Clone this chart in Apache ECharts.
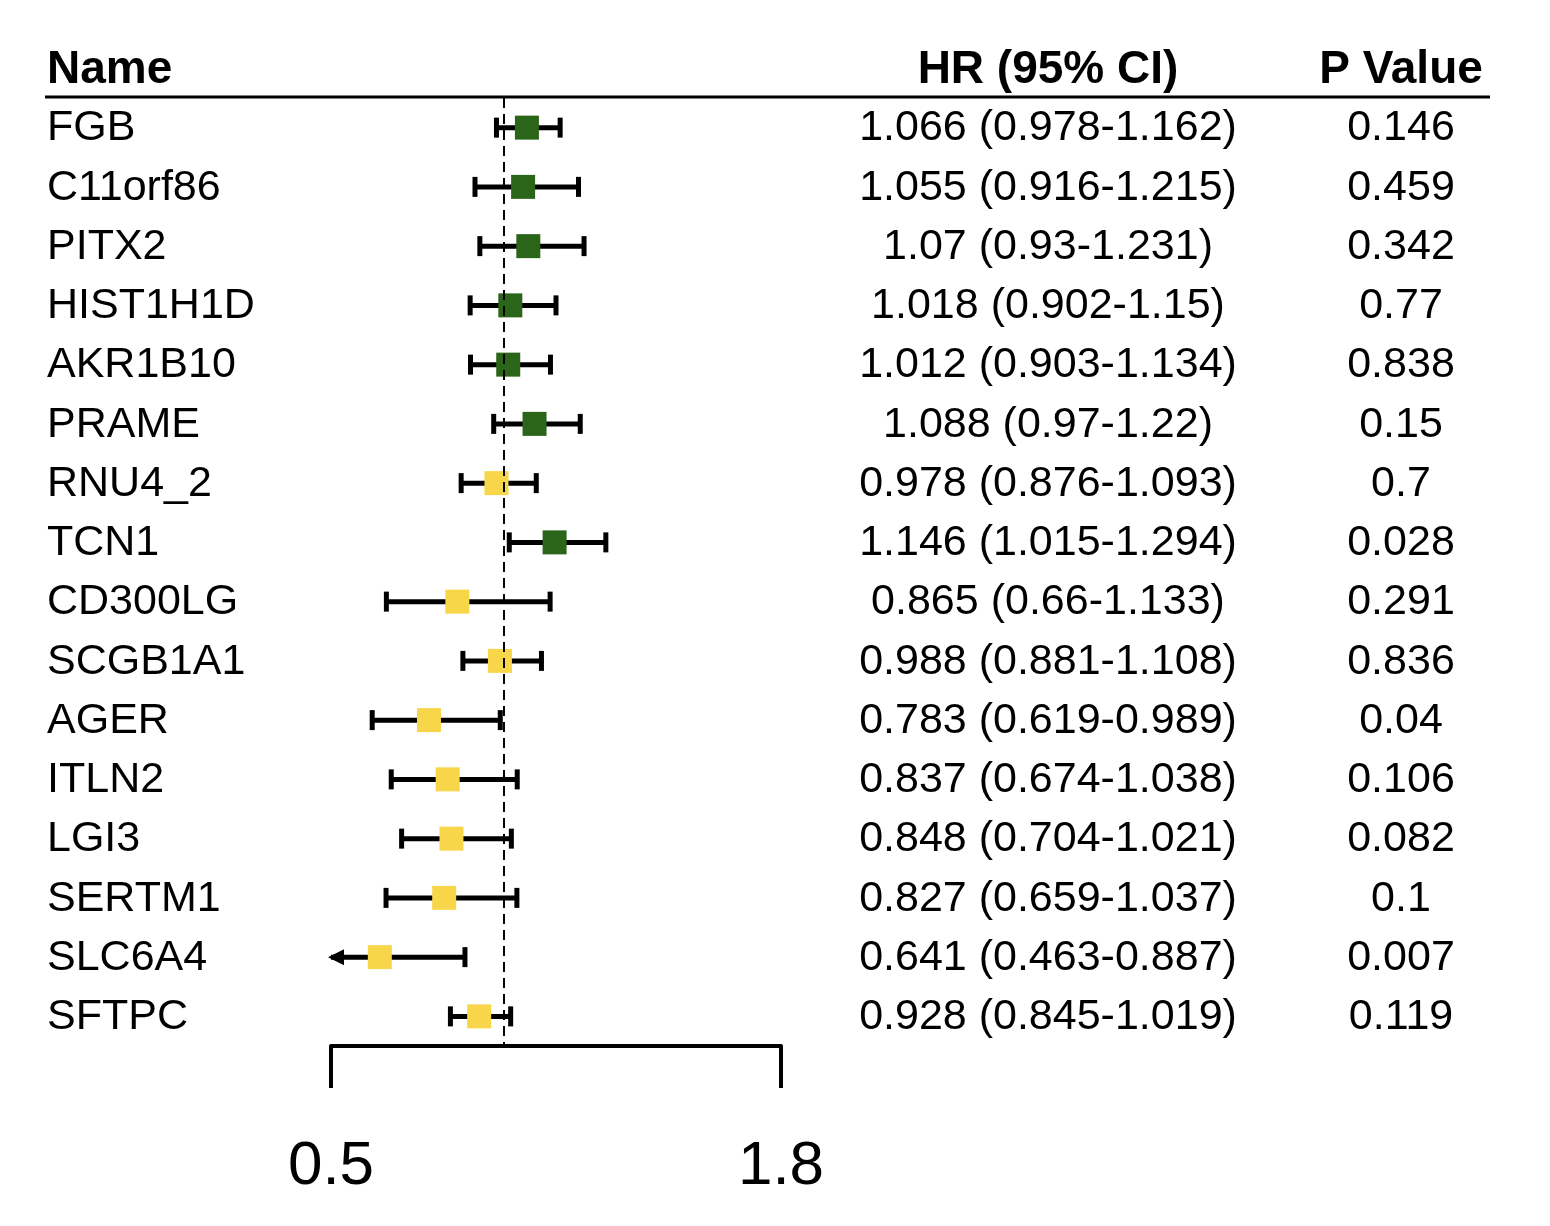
<!DOCTYPE html>
<html><head><meta charset="utf-8">
<script src="https://cdn.jsdelivr.net/npm/echarts@6/dist/echarts.min.js"></script>
<style>html,body{margin:0;background:#fff}#c{width:1550px;height:1226px}</style>
</head><body><div id="c"></div>
<script>
const names = ["FGB","C11orf86","PITX2","HIST1H1D","AKR1B10","PRAME","RNU4_2","TCN1","CD300LG","SCGB1A1","AGER","ITLN2","LGI3","SERTM1","SLC6A4","SFTPC"];
const hr = [1.066,1.055,1.07,1.018,1.012,1.088,0.978,1.146,0.865,0.988,0.783,0.837,0.848,0.827,0.641,0.928];
const lower = [0.978,0.916,0.93,0.902,0.903,0.97,0.876,1.015,0.66,0.881,0.619,0.674,0.704,0.659,0.463,0.845];
const upper = [1.162,1.215,1.231,1.15,1.134,1.22,1.093,1.294,1.133,1.108,0.989,1.038,1.021,1.037,0.887,1.019];
const ciText = ["1.066 (0.978-1.162)","1.055 (0.916-1.215)","1.07 (0.93-1.231)","1.018 (0.902-1.15)","1.012 (0.903-1.134)","1.088 (0.97-1.22)","0.978 (0.876-1.093)","1.146 (1.015-1.294)","0.865 (0.66-1.133)","0.988 (0.881-1.108)","0.783 (0.619-0.989)","0.837 (0.674-1.038)","0.848 (0.704-1.021)","0.827 (0.659-1.037)","0.641 (0.463-0.887)","0.928 (0.845-1.019)"];
const pText = ["0.146","0.459","0.342","0.77","0.838","0.15","0.7","0.028","0.291","0.836","0.04","0.106","0.082","0.1","0.007","0.119"];
const xMin = 0.5, xMax = 1.8;
const font = '"Liberation Sans", Arial, sans-serif';
const chart = echarts.init(document.getElementById('c'));
const data = names.map((n,i)=>[i,hr[i],lower[i],upper[i]]);
chart.setOption({
  animation:false,
  grid:{left:331,right:769,top:98,bottom:180},
  xAxis:{type:'value',min:xMin,max:xMax,interval:1.3,splitLine:{show:false},
    axisLine:{show:true,lineStyle:{color:'#000',width:4}},
    axisTick:{show:true,length:42,lineStyle:{color:'#000',width:4}},
    axisLabel:{fontSize:62,color:'#000',margin:90,fontFamily:font}},
  yAxis:{type:'category',data:names,inverse:true,show:false},
  graphic:[
    {type:'text',x:47,y:70,style:{text:'Name',font:'bold 46px '+font,fill:'#000',verticalAlign:'middle'}},
    {type:'text',x:1048,y:70,style:{text:'HR (95% CI)',font:'bold 46px '+font,fill:'#000',align:'center',verticalAlign:'middle'}},
    {type:'text',x:1401,y:70,style:{text:'P Value',font:'bold 46px '+font,fill:'#000',align:'center',verticalAlign:'middle'}},
    {type:'line',shape:{x1:45,y1:97,x2:1490,y2:97},style:{stroke:'#000',lineWidth:3}}
  ],
  series:[{
    type:'custom',clip:false,data:data,
    encode:{x:[1,2,3],y:0},
    renderItem:function(params,api){
      const i=api.value(0), h=api.value(1), lo=api.value(2), hi=api.value(3);
      const y=api.coord([h,i])[1];
      const clipped = lo<xMin;
      const xl=api.coord([Math.max(lo,xMin),i])[0], xh=api.coord([hi,i])[0], xc=api.coord([h,i])[0];
      const col = h>=1 ? '#2b6519' : '#f7d64a';
      const ch=[];
      ch.push({type:'line',shape:{x1:xl,y1:y,x2:xh,y2:y},style:{stroke:'#000',lineWidth:5}});
      ch.push({type:'line',shape:{x1:xh,y1:y-10,x2:xh,y2:y+10},style:{stroke:'#000',lineWidth:5}});
      if(clipped){
        ch.push({type:'polygon',shape:{points:[[xl-3,y],[xl+13,y-8],[xl+13,y+8]]},style:{fill:'#000'}});
      } else {
        ch.push({type:'line',shape:{x1:xl,y1:y-10,x2:xl,y2:y+10},style:{stroke:'#000',lineWidth:5}});
      }
      ch.push({type:'rect',shape:{x:xc-12,y:y-12,width:24,height:24},style:{fill:col}});
      ch.push({type:'text',style:{x:47,y:y+1,text:names[i],font:'43px '+font,fill:'#000',verticalAlign:'middle'}});
      ch.push({type:'text',style:{x:1048,y:y+1,text:ciText[i],font:'43px '+font,fill:'#000',align:'center',verticalAlign:'middle'}});
      ch.push({type:'text',style:{x:1401,y:y+1,text:pText[i],font:'43px '+font,fill:'#000',align:'center',verticalAlign:'middle'}});
      return {type:'group',children:ch};
    },
    markLine:{silent:true,symbol:'none',label:{show:false},
      lineStyle:{color:'#000',type:[10,6],width:2},data:[{xAxis:1}]}
  }]
});
</script></body></html>
